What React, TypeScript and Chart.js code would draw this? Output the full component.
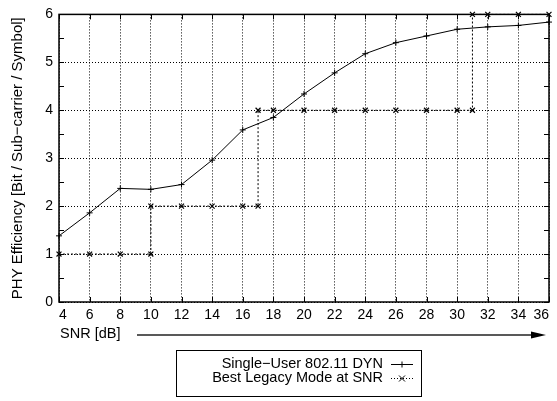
import React, { useEffect, useRef } from "react";
import { Chart, registerables } from "chart.js";

Chart.register(...registerables);

// ---- data ----
const snrTicks = [4, 6, 8, 10, 12, 14, 16, 18, 20, 22, 24, 26, 28, 30, 32, 34, 36];
const yTicks = [0, 1, 2, 3, 4, 5, 6];

const dynSnr = [4, 6, 8, 10, 12, 14, 16, 18, 20, 22, 24, 26, 28, 30, 32, 34, 36];
const dynEff = [1.38, 1.86, 2.37, 2.35, 2.45, 2.96, 3.59, 3.85, 4.34, 4.78, 5.18, 5.41, 5.55, 5.69, 5.74, 5.77, 5.84];

const legacySnr = [4, 6, 8, 10, 10, 12, 14, 16, 17, 17, 18, 20, 22, 24, 26, 28, 30, 31, 31, 32, 34, 36];
const legacyEff = [1, 1, 1, 1, 2, 2, 2, 2, 2, 4, 4, 4, 4, 4, 4, 4, 4, 4, 6, 6, 6, 6];

const seriesLabels = ["Single\u2212User 802.11 DYN", "Best Legacy Mode at SNR"];
const xTitle = "SNR [dB]";
const yTitle = "PHY Efficiency [Bit / Sub\u2212carrier / Symbol]";

const FONT = "'Liberation Sans', Arial, Helvetica, sans-serif";

const overlay = {
  id: "overlay",
  afterDraw(chart: any) {
    const { ctx, chartArea: a, scales } = chart;
    const xs = scales.x;
    const ys = scales.y;
    ctx.save();
    ctx.strokeStyle = "#000";
    ctx.lineWidth = 1;
    const seg = (x1: number, y1: number, x2: number, y2: number) => {
      ctx.beginPath();
      ctx.moveTo(x1, y1);
      ctx.lineTo(x2, y2);
      ctx.stroke();
    };
    // inward ticks
    for (const v of snrTicks) {
      const px = Math.round(xs.getPixelForValue(v)) + 0.5;
      seg(px, a.bottom, px, a.bottom - 5);
      seg(px, a.top, px, a.top + 5);
    }
    for (let v = 0; v <= 6; v += 0.5) {
      const py = Math.round(ys.getPixelForValue(v)) + 0.5;
      seg(a.left, py, a.left + 5, py);
      seg(a.right, py, a.right - 5, py);
    }
    // border
    ctx.lineWidth = 1.5;
    ctx.strokeRect(a.left, a.top, a.right - a.left, a.bottom - a.top);

    // y title
    ctx.fillStyle = "#000";
    ctx.font = `15px ${FONT}`;
    ctx.save();
    ctx.translate(18, (a.top + a.bottom) / 2);
    ctx.rotate(-Math.PI / 2);
    ctx.textAlign = "center";
    ctx.textBaseline = "middle";
    ctx.fillText(yTitle, 0, 0);
    ctx.restore();

    // x title + arrow
    ctx.font = `14.5px ${FONT}`;
    ctx.textAlign = "left";
    ctx.textBaseline = "middle";
    ctx.fillText(xTitle, a.left + 1, 334);
    ctx.lineWidth = 1.5;
    ctx.strokeStyle = "#222";
    seg(137, 335, 534, 335);
    ctx.fillStyle = "#000";
    ctx.beginPath();
    ctx.moveTo(531, 331.5);
    ctx.lineTo(546, 335);
    ctx.lineTo(531, 338.5);
    ctx.closePath();
    ctx.fill();

    // legend
    ctx.strokeStyle = "#000";
    ctx.lineWidth = 1;
    ctx.strokeRect(176.5, 350.5, 245, 46);
    ctx.fillStyle = "#000";
    ctx.textAlign = "right";
    ctx.fillText(seriesLabels[0], 383, 364);
    ctx.fillText(seriesLabels[1], 383, 378);
    // sample 1
    seg(391, 364.5, 413, 364.5);
    seg(402, 361.5, 402, 367.5);
    // sample 2
    ctx.setLineDash([1, 2]);
    seg(391, 378.5, 413, 378.5);
    ctx.setLineDash([]);
    seg(399, 375.5, 405, 381.5);
    seg(399, 381.5, 405, 375.5);
    ctx.restore();
  },
};

export default function App() {
  const ref = useRef<HTMLCanvasElement | null>(null);
  useEffect(() => {
    if (!ref.current) return;
    const chart = new Chart(ref.current, {
      type: "line",
      data: {
        datasets: [
          {
            label: seriesLabels[0],
            data: dynSnr.map((x, i) => ({ x, y: dynEff[i] })),
            borderColor: "#000",
            backgroundColor: "#000",
            borderWidth: 1,
            pointStyle: "cross",
            pointRadius: 3,
            pointBorderWidth: 1,
            tension: 0,
            clip: false,
          },
          {
            label: seriesLabels[1],
            data: legacySnr.map((x, i) => ({ x, y: legacyEff[i] })),
            borderColor: "#000",
            backgroundColor: "#000",
            borderWidth: 1,
            borderDash: [2, 2],
            pointStyle: "crossRot",
            pointRadius: 3.5,
            pointBorderWidth: 1.2,
            tension: 0,
            clip: false,
          },
        ],
      },
      options: {
        animation: false,
        responsive: false,
        devicePixelRatio: 1,
        layout: { padding: { top: 8, right: 8, left: 0, bottom: 0 } },
        plugins: { legend: { display: false }, tooltip: { enabled: false } },
        scales: {
          x: {
            type: "linear",
            min: 4,
            max: 36,
            afterFit: (s: any) => {
              s.height = 99;
            },
            afterBuildTicks: (s: any) => {
              s.ticks = snrTicks.map((v) => ({ value: v }));
            },
            border: { display: false, dash: [1, 2] },
            grid: {
              color: "#000",
              lineWidth: 1,
              drawTicks: false,
            },
            ticks: {
              color: "#000",
              font: { family: FONT, size: 14 },
              padding: 5,
              maxRotation: 0,
              autoSkip: false,
              align: "inner",
            },
          },
          y: {
            type: "linear",
            min: 0,
            max: 6,
            afterFit: (s: any) => {
              s.width = 59;
            },
            afterBuildTicks: (s: any) => {
              s.ticks = yTicks.map((v) => ({ value: v }));
            },
            border: { display: false, dash: [1, 2] },
            grid: {
              color: "#000",
              lineWidth: 1,
              drawTicks: false,
            },
            ticks: {
              color: "#000",
              font: { family: FONT, size: 14 },
              padding: 6,
            },
          },
        },
      },
      plugins: [overlay],
    } as any);
    return () => chart.destroy();
  }, []);
  return (
    <div style={{ position: "fixed", left: 0, top: 0, width: 557, height: 401, background: "#fff" }}>
      <canvas ref={ref} width={557} height={401} />
    </div>
  );
}
